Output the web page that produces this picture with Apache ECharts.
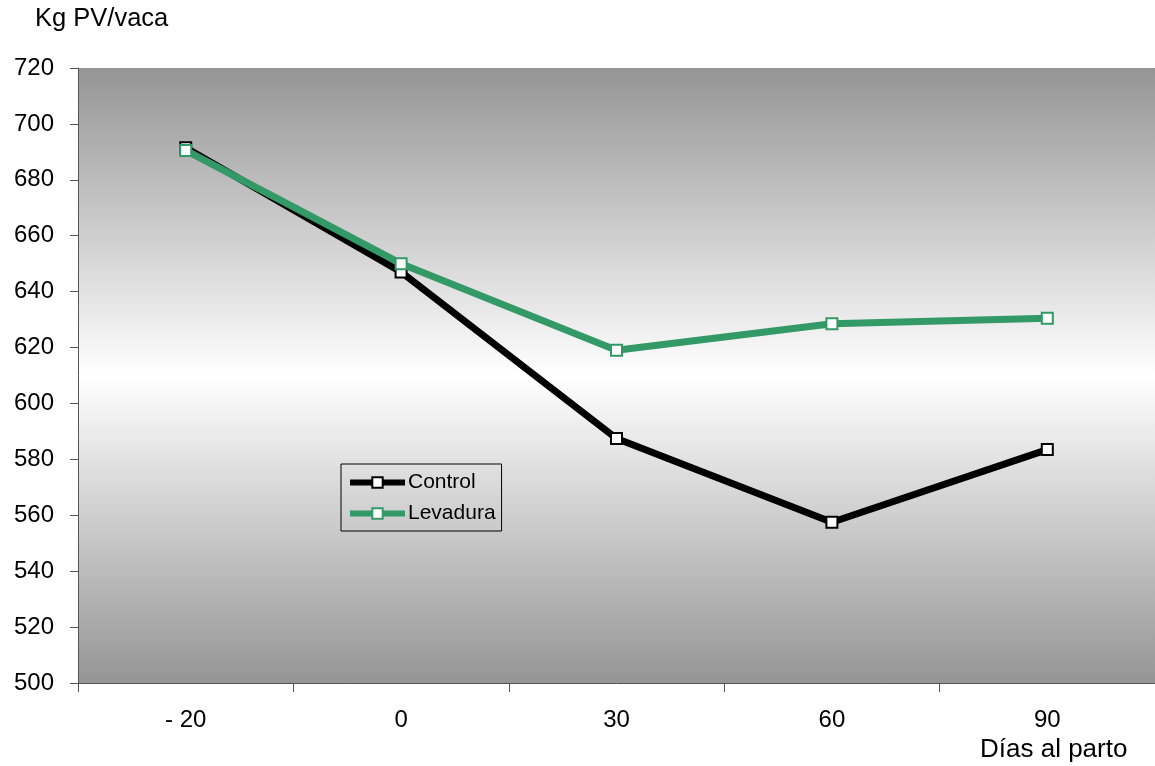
<!DOCTYPE html>
<html><head><meta charset="utf-8">
<script src="https://cdn.jsdelivr.net/npm/echarts@6/dist/echarts.min.js"></script>
<style>html,body{margin:0;padding:0;background:#fff}#c{width:1155px;height:766px}</style>
</head><body><div id="c"></div>
<script>
var categories = ['- 20', '0', '30', '60', '90'];
var controlValues = [691.5, 647, 587.5, 557.5, 583.5];
var levaduraValues = [690.5, 650, 619, 628.5, 630.5];
var yTicks = {min: 500, max: 720, interval: 20};

var chart = echarts.init(document.getElementById('c'), null, {renderer: 'canvas'});
var font = 'Liberation Sans, Arial, sans-serif';
chart.setOption({
  animation: false,
  backgroundColor: '#ffffff',
  title: [
    {text: 'Kg PV/vaca', left: 35, top: 6, padding: 0, textStyle: {fontFamily: font, fontSize: 25.5, fontWeight: 'normal', color: '#000'}},
    {text: 'Días al parto', left: 980, top: 737, padding: 0, textStyle: {fontFamily: font, fontSize: 26, fontWeight: 'normal', color: '#000'}}
  ],
  grid: {left: 78, top: 68, width: 1080, height: 615, show: true, borderWidth: 0,
    backgroundColor: {type: 'linear', x: 0, y: 0, x2: 0, y2: 1, colorStops: [
      {offset: 0, color: '#959595'}, {offset: 0.5, color: '#ffffff'}, {offset: 1, color: '#959595'}]}},
  legend: {
    left: 341, top: 464, orient: 'vertical',
    padding: [8, 6, 7, 6], itemGap: 10, itemWidth: 55, itemHeight: 13,
    borderColor: '#000', borderWidth: 1, backgroundColor: 'transparent',
    textStyle: {fontFamily: font, fontSize: 21, color: '#000', padding: [0, 0, 0, -2]},
    data: [
      {name: 'Control', lineStyle: {width: 6}},
      {name: 'Levadura', lineStyle: {width: 6}}
    ]
  },
  xAxis: {
    type: 'category', data: categories, boundaryGap: true,
    axisLine: {lineStyle: {color: '#555', width: 1}},
    axisTick: {show: true, length: 9, interval: 0, lineStyle: {color: '#555'}},
    axisLabel: {fontFamily: font, fontSize: 24, color: '#000', margin: 25},
    splitLine: {show: false}
  },
  yAxis: {
    type: 'value', min: yTicks.min, max: yTicks.max, interval: yTicks.interval,
    axisLine: {show: true, lineStyle: {color: '#555', width: 1}},
    axisTick: {show: true, length: 8, lineStyle: {color: '#555'}},
    axisLabel: {fontFamily: font, fontSize: 24, color: '#000', margin: 24},
    splitLine: {show: false}
  },
  series: [
    {name: 'Control', type: 'line', data: controlValues, symbol: 'rect', symbolSize: 11,
      lineStyle: {color: '#000', width: 7}, itemStyle: {color: '#fff', borderColor: '#000', borderWidth: 2}, z: 2},
    {name: 'Levadura', type: 'line', data: levaduraValues, symbol: 'rect', symbolSize: 11,
      lineStyle: {color: '#339966', width: 7}, itemStyle: {color: '#fff', borderColor: '#339966', borderWidth: 2}, z: 3}
  ]
});
</script></body></html>
